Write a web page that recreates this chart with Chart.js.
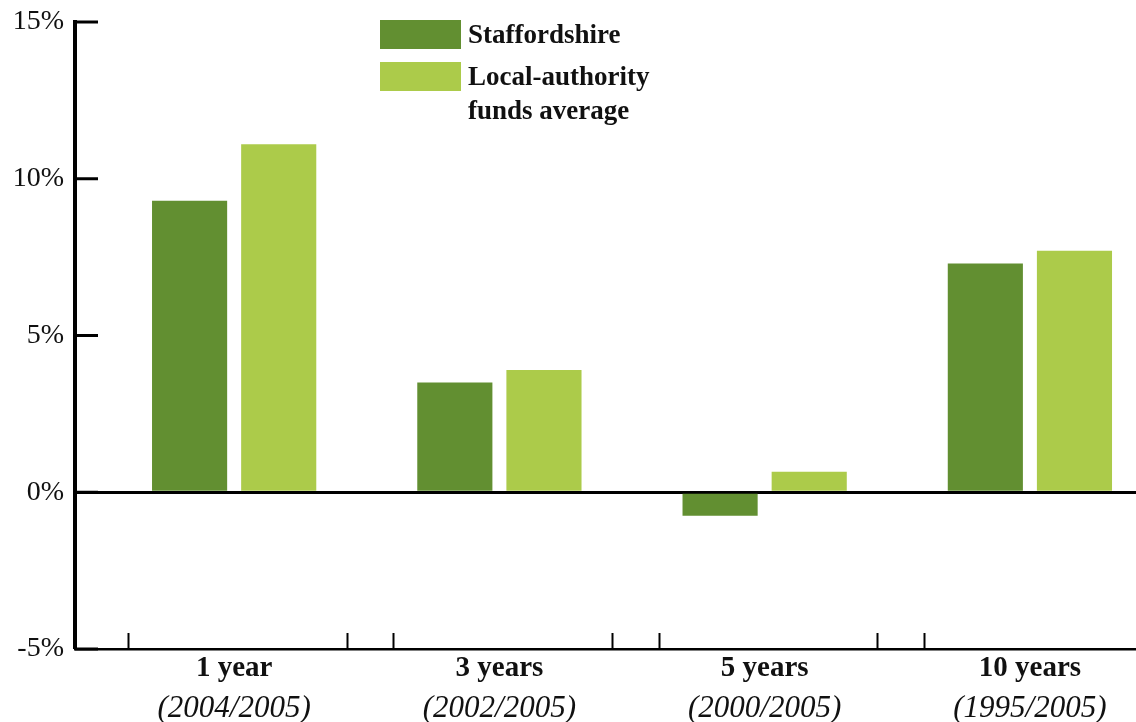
<!DOCTYPE html>
<html>
<head>
<meta charset="utf-8">
<script src="https://cdn.jsdelivr.net/npm/chart.js@4.4.1/dist/chart.umd.min.js"></script>
<style>
  html, body { margin: 0; padding: 0; background: #fff; overflow: hidden; }
  #wrap { width: 1136px; height: 722px; position: relative; }
</style>
</head>
<body>
<div id="wrap"><canvas id="chart" width="1136" height="722"></canvas></div>
<script>
// Investment return periods and the span each one covers
const categories = ['1 year', '3 years', '5 years', '10 years'];
const periods = ['(2004/2005)', '(2002/2005)', '(2000/2005)', '(1995/2005)'];

// Annualised returns, in percent
const staffordshire = [9.3, 3.5, -0.75, 7.3];
const localAverage = [11.1, 3.9, 0.65, 7.7];

const seriesNames = ['Staffordshire', 'Local-authority funds average'];
const seriesColors = ['#628F31', '#ACCB4A'];

// Value axis range and step
const yMin = -5, yMax = 15, yStep = 5;

const SERIF = '"Liberation Serif", "Times New Roman", serif';
const INK = '#111';

const toPoints = arr => arr.map((v, i) => ({ x: i, y: v }));

// Short upward tick marks on the bottom axis marking the edges of each group,
// and inward tick marks on the value axis.
const axisMarks = {
  id: 'axisMarks',
  afterDraw(chart) {
    const { ctx, chartArea, scales } = chart;
    const x = scales.x, y = scales.y;
    ctx.save();
    ctx.strokeStyle = '#000';
    ctx.lineWidth = 2;
    categories.forEach((c, i) => {
      [i - 0.40, i + 0.425].forEach(v => {
        if (v < x.min || v > x.max) return;
        const px = Math.round(x.getPixelForValue(v)) + 0.5;
        ctx.beginPath();
        ctx.moveTo(px, chartArea.bottom);
        ctx.lineTo(px, chartArea.bottom - 16);
        ctx.stroke();
      });
    });
    ctx.lineWidth = 3;
    y.ticks.forEach(t => {
      const py = y.getPixelForValue(t.value);
      ctx.beginPath();
      ctx.moveTo(chartArea.left, py);
      ctx.lineTo(chartArea.left + 23, py);
      ctx.stroke();
    });
    ctx.restore();
  }
};

// Legend: colour swatches with bold, wrapped series names
const swatchLegend = {
  id: 'swatchLegend',
  afterDraw(chart) {
    const { ctx } = chart;
    const boxX = 380, boxW = 81, boxH = 29, textX = 468;
    const maxW = 200, lineGap = 34;
    let top = 20;
    ctx.save();
    ctx.font = 'bold 27px ' + SERIF;
    ctx.textBaseline = 'alphabetic';
    ctx.textAlign = 'left';
    chart.data.datasets.forEach(ds => {
      ctx.fillStyle = ds.backgroundColor;
      ctx.fillRect(boxX, top, boxW, boxH);
      const words = ds.label.split(' ');
      const lines = [];
      let cur = '';
      words.forEach(w => {
        const test = cur ? cur + ' ' + w : w;
        if (cur && ctx.measureText(test).width > maxW) { lines.push(cur); cur = w; }
        else cur = test;
      });
      if (cur) lines.push(cur);
      ctx.fillStyle = INK;
      lines.forEach((ln, k) => ctx.fillText(ln, textX, top + 23 + k * lineGap));
      top += 42;
    });
    ctx.restore();
  }
};

const catTicks = scale => { scale.ticks = categories.map((c, i) => ({ value: i })); };

new Chart(document.getElementById('chart'), {
  type: 'bar',
  data: {
    datasets: [
      { label: seriesNames[0], data: toPoints(staffordshire), backgroundColor: seriesColors[0] },
      { label: seriesNames[1], data: toPoints(localAverage), backgroundColor: seriesColors[1] }
    ]
  },
  options: {
    responsive: false,
    animation: false,
    devicePixelRatio: 1,
    categoryPercentage: 0.672,
    barPercentage: 0.843,
    layout: { padding: { top: 22, right: 0, left: 0, bottom: 0 } },
    plugins: { legend: { display: false }, tooltip: { enabled: false } },
    scales: {
      x: {
        type: 'linear',
        position: 'bottom',
        weight: 0,
        offset: false,
        min: -0.6,
        max: 3.4,
        afterBuildTicks: catTicks,
        afterFit: s => { s.height = 36; s.paddingLeft = 0; s.paddingRight = 0; },
        grid: { display: false, drawTicks: false },
        border: { display: true, color: '#000', width: 2.5 },
        ticks: {
          padding: 2,
          color: INK,
          maxRotation: 0,
          autoSkip: false,
          font: { family: SERIF, size: 29, weight: 'bold' },
          callback: v => categories[Math.round(v)]
        }
      },
      x2: {
        type: 'linear',
        position: 'bottom',
        weight: 1,
        offset: false,
        min: -0.6,
        max: 3.4,
        afterBuildTicks: catTicks,
        afterFit: s => { s.height = 37; s.paddingLeft = 0; s.paddingRight = 0; },
        grid: { display: false, drawTicks: false },
        border: { display: false },
        ticks: {
          padding: 5,
          color: INK,
          maxRotation: 0,
          autoSkip: false,
          font: { family: SERIF, size: 31, style: 'italic' },
          callback: v => periods[Math.round(v)]
        }
      },
      y: {
        min: yMin,
        max: yMax,
        z: 1,
        afterFit: s => { s.width = 75; s.paddingTop = 0; s.paddingBottom = 0; },
        ticks: {
          stepSize: yStep,
          padding: 11,
          color: INK,
          font: { family: SERIF, size: 28 },
          callback: v => v + '%'
        },
        grid: {
          drawTicks: false,
          color: c => (c.tick && c.tick.value === 0 ? '#000' : 'rgba(0,0,0,0)'),
          lineWidth: c => (c.tick && c.tick.value === 0 ? 3 : 0)
        },
        border: { display: true, color: '#000', width: 4 }
      }
    }
  },
  plugins: [axisMarks, swatchLegend]
});
</script>
</body>
</html>
